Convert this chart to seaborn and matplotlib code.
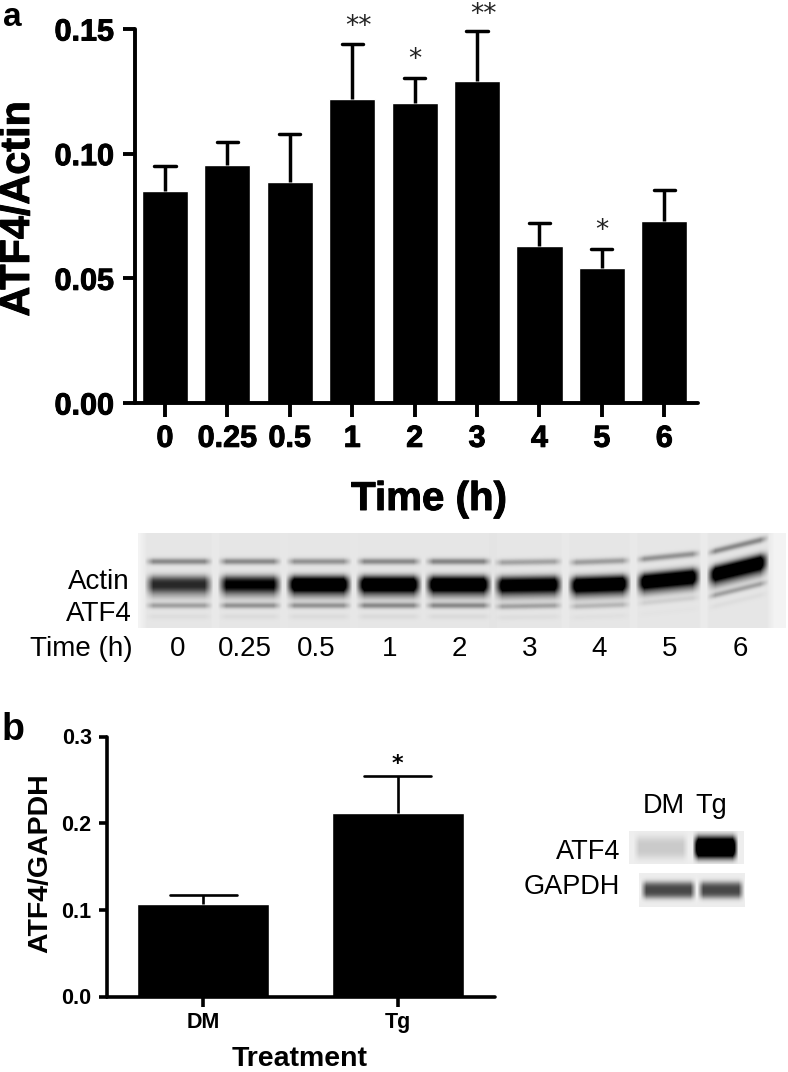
import numpy as np
import matplotlib
matplotlib.use("Agg")
import matplotlib.pyplot as plt
import matplotlib.patheffects as pe
import seaborn as sns

W, H = 788, 1072

# panel a
times = ["0", "0.25", "0.5", "1", "2", "3", "4", "5", "6"]
atf4_actin = [0.085, 0.0953, 0.0885, 0.122, 0.1205, 0.1293, 0.063, 0.054, 0.073]
atf4_actin_top = [0.095, 0.1048, 0.108, 0.1438, 0.1305, 0.149, 0.0722, 0.0616, 0.0853]
stars_a = {3: ("**", 0.1562), 4: ("*", 0.1428), 5: ("**", 0.1610), 7: ("*", 0.0742)}

# panel b
treatments = ["DM", "Tg"]
atf4_gapdh = [0.1064, 0.2113]
atf4_gapdh_top = [0.1168, 0.2544]

# blot band strengths per lane (0 = nothing, 1 = black)
upper_band = [0.36, 0.36, 0.32, 0.36, 0.38, 0.26, 0.28, 0.32, 0.36]
main_band = [0.62, 0.78, 1.0, 1.0, 1.0, 0.92, 1.0, 1.0, 1.0]
lower_band = [0.27, 0.32, 0.32, 0.36, 0.36, 0.26, 0.18, 0.08, 0.26]

sns.set_style("ticks")
plt.rcParams["font.family"] = ["Liberation Sans", "DejaVu Sans"]
plt.rcParams.update({"text.color": "black", "axes.edgecolor": "black",
                     "xtick.color": "black", "ytick.color": "black"})

fig = plt.figure(figsize=(W / 100, H / 100), dpi=100)
heavy = [pe.withStroke(linewidth=0.7, foreground="black")]


def px_axes(x0, y0, x1, y1):
    return fig.add_axes([x0 / W, 1 - y1 / H, (x1 - x0) / W, (y1 - y0) / H])


def px_text(x, y, s, **kw):
    kw.setdefault("va", "center")
    return fig.text(x / W, 1 - y / H, s, **kw)


def bars(ax, cats, vals, tops, width, cap, lw):
    sns.barplot(x=cats, y=vals, color="black", saturation=1, width=width, errorbar=None, ax=ax)
    pos = np.arange(len(cats))
    ax.vlines(pos, vals, tops, color="black", linewidth=lw, zorder=1)
    ax.hlines(tops, pos - cap, pos + cap, color="black", linewidth=lw, zorder=1,
              capstyle="round")


def style_axes(ax, spine, ylen, xlen, ysize, xsize, ypad, xpad):
    sns.despine(ax=ax)
    for side in ["left", "bottom"]:
        ax.spines[side].set_linewidth(spine)
        ax.spines[side].set_capstyle("round")
    ax.tick_params(axis="y", width=spine, length=ylen, labelsize=ysize, pad=ypad)
    ax.tick_params(axis="x", width=spine, length=xlen, labelsize=xsize, pad=xpad)
    for lab in ax.get_xticklabels() + ax.get_yticklabels():
        lab.set_fontweight("bold")


# --- panel a chart
ax_a = px_axes(135, 29, 698, 403)
bars(ax_a, times, atf4_actin, atf4_actin_top, 0.74, 0.17, 2.5)
ax_a.set_xlim(-0.48, 8.54)
ax_a.set_ylim(0, 0.15)
ax_a.set_yticks([0, 0.05, 0.10, 0.15])
ax_a.set_yticklabels(["0.00", "0.05", "0.10", "0.15"])
style_axes(ax_a, 2.8, 9, 10, 22, 22, 6, 5)
for lab in ax_a.get_xticklabels() + ax_a.get_yticklabels():
    lab.set_path_effects(heavy)
for i, (s, y) in stars_a.items():
    off = 0.1 if s == "**" else 0
    ax_a.text(i + off, y, s, ha="center", va="top", fontsize=19, family="DejaVu Sans", color="#222222")

px_text(3, 17, "a", fontsize=24, fontweight="bold", ha="left")
px_text(18, 209, "ATF4/Actin", fontsize=29.8, fontweight="bold", rotation=90, ha="center").set_path_effects(heavy)
px_text(429, 499, "Time (h)", fontsize=29, fontweight="bold", ha="center").set_path_effects(heavy)

# --- blot under panel a, built from the band strengths
gx0, gx1, gy0, gy1 = 138, 786, 533, 628
lane_lo = [147, 220, 288, 358, 427, 496, 570, 638, 709]
lane_hi = [210, 279, 349, 419, 489, 560, 628, 698, 766]
# vertical shift of each lane at its left and right edge (gel smile)
shift_l = [0, 0, 0, 0, 0, 1, 1, -2, -9]
shift_r = [0, 0, 0, 0, 0, 0, -1, -8, -23]

xx, yy = np.meshgrid(np.arange(gx0, gx1), np.arange(gy0, gy1))
gel = np.full(xx.shape, 0.05)
for n in range(9):
    lo, hi = lane_lo[n], lane_hi[n]
    t = (xx - lo) / (hi - lo)
    dy = shift_l[n] + (shift_r[n] - shift_l[n]) * t
    # soft lane edges
    edge = np.clip((xx - lo + 3) / 9, 0, 1) * np.clip((hi + 3 - xx) / 9, 0, 1)
    y = yy - dy
    extra = 0.05 * np.clip((xx - lo + 8) / 8, 0, 1) * np.clip((hi + 8 - xx) / 8, 0, 1)
    lane = upper_band[n] * np.exp(-((y - 561) / 3.2) ** 2)
    lane = lane + 1.2 * main_band[n] * np.exp(-np.abs((y - 584) / 8.5) ** 2.6)
    lane = lane + 0.22 * main_band[n] * np.exp(-((y - 595) / 5.0) ** 2)
    lane = lane + lower_band[n] * np.exp(-((y - 605) / 3.0) ** 2)
    lane = lane + 0.12 * lower_band[n] * np.exp(-((y - 616) / 3.0) ** 2)
    gel = gel + extra + lane * edge
gel = np.clip(gel, 0, 1)

ax_gel = px_axes(gx0, gy0, gx1, gy1)
ax_gel.imshow(gel, cmap="gray_r", vmin=0, vmax=1, aspect="auto", interpolation="bilinear")
ax_gel.axis("off")

px_text(130, 582, "Actin", fontsize=20, ha="right")
px_text(132, 614, "ATF4", fontsize=20, ha="right")
px_text(133, 649, "Time (h)", fontsize=20, ha="right")
lane_label_x = [178, 245, 316, 390, 459, 530, 599, 670, 740]
for x, s in zip(lane_label_x, times):
    px_text(x, 649, s, fontsize=20, ha="center")

# --- panel b chart
ax_b = px_axes(107, 736.5, 495, 996.5)
bars(ax_b, treatments, atf4_gapdh, atf4_gapdh_top, 0.68, 0.172, 1.9)
ax_b.set_xlim(-0.494, 1.5)
ax_b.set_ylim(0, 0.3)
ax_b.set_yticks([0, 0.1, 0.2, 0.3])
ax_b.set_yticklabels(["0.0", "0.1", "0.2", "0.3"])
style_axes(ax_b, 2.6, 6, 7, 15.5, 15.5, 5, 4)
ax_b.text(1, 0.2798, "*", ha="center", va="top", fontsize=16, fontweight="bold", family="DejaVu Sans")

px_text(2, 730, "b", fontsize=27, fontweight="bold", ha="left")
px_text(40, 863, "ATF4/GAPDH", fontsize=20.5, fontweight="bold", rotation=90, ha="center")
px_text(300, 1059, "Treatment", fontsize=20.5, fontweight="bold", ha="center")


# --- small blots of panel b
def small_blot(x0, y0, x1, y1, strengths, spans, cy, half):
    xx, yy = np.meshgrid(np.arange(x0, x1), np.arange(y0, y1))
    img = np.full(xx.shape, 0.07)
    for s, (a, b) in zip(strengths, spans):
        edge = np.clip((xx - a) / 6, 0, 1) * np.clip((b - xx) / 6, 0, 1)
        img = img + s * edge * np.exp(-np.abs((yy - cy) / half) ** 3)
    ax = px_axes(x0, y0, x1, y1)
    ax.imshow(np.clip(img, 0, 1), cmap="gray_r", vmin=0, vmax=1, aspect="auto", interpolation="bilinear")
    ax.axis("off")


small_blot(629, 831, 744, 864, [0.14, 1.4], [(633, 688), (692, 738)], 847, 11)
small_blot(639, 873, 745, 907, [0.65, 0.65], [(640, 696), (697, 744)], 890, 8)

px_text(643, 806, "DM", fontsize=19.5, ha="left")
px_text(695, 806, "Tg", fontsize=19.5, ha="left")
px_text(620, 852, "ATF4", fontsize=19.5, ha="right")
px_text(620, 887, "GAPDH", fontsize=19.5, ha="right")

fig.savefig("out.png", dpi=100)
